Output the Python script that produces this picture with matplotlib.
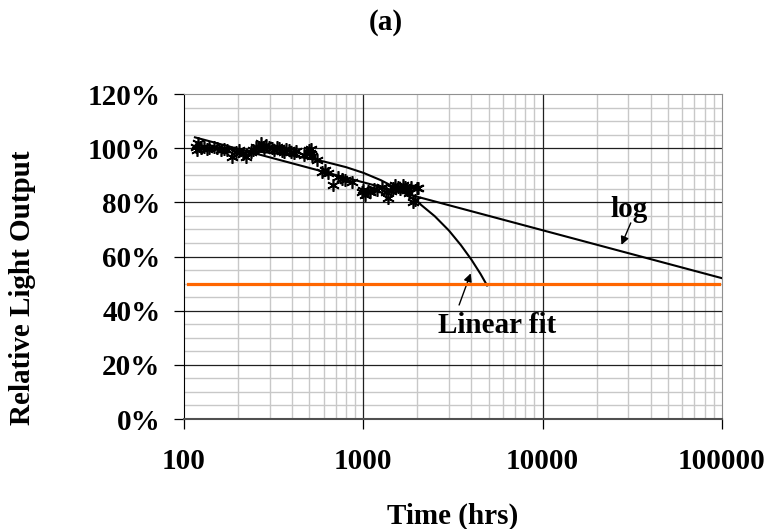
"""Relative light output vs time, with log and linear fits."""
import numpy as np
import matplotlib
matplotlib.use("Agg")
import matplotlib.pyplot as plt
from matplotlib.ticker import FixedLocator, LogLocator, NullFormatter

# Measured points (hours, % of initial output)
hours = np.array([
    116, 118, 120, 124, 129, 134, 138, 146, 153, 160, 167, 174, 185, 194,
    203, 212, 221, 235, 243, 251, 260, 268, 279, 288, 298, 308, 318, 328,
    339, 350, 361, 372, 385, 397, 410, 420, 467, 497, 505, 512, 520, 553,
    588, 610, 635, 677, 724, 760, 790, 864, 984, 1000, 1024, 1060, 1088,
    1140, 1190, 1270, 1340, 1373, 1420, 1462, 1510, 1560, 1610, 1665, 1710,
    1755, 1800, 1850, 1895, 1940, 1990, 2020
])
output = np.array([
    100.6, 99.3, 101.8, 100.2, 100.6, 99.8, 100.0, 100.4, 100.0, 99.3, 99.8,
    99.3, 96.9, 98.5, 99.3, 98.0, 96.9, 98.7, 99.5, 100.6, 100.2, 101.8,
    100.0, 101.0, 100.6, 100.2, 99.3, 100.4, 100.0, 99.0, 98.7, 99.8, 99.3,
    98.5, 98.2, 98.8, 97.5, 99.3, 98.2, 99.8, 97.2, 95.6, 91.3, 92.0, 90.8,
    86.4, 89.5, 88.6, 88.3, 87.6, 83.9, 84.6, 82.7, 84.3, 83.9, 85.0, 84.6,
    85.8, 83.8, 81.6, 84.2, 85.3, 86.4, 85.8, 85.0, 86.4, 85.5, 84.6, 83.5,
    85.8, 80.2, 80.9, 85.3, 85.2
])

# Logarithmic trend line (straight on a log axis): end points
log_fit_hours = [115, 100000]
log_fit_output = [104.0, 52.0]

# Linear trend line
lin_fit_hours = [114, 200, 300, 400, 600, 800, 1000, 1250, 1500, 1750, 2000,
                 2500, 3000, 3500, 4000, 4500, 4900]
lin_fit_output = [100.3, 99.4, 98.3, 97.3, 95.1, 93.0, 90.9, 88.2, 85.5,
                  82.9, 80.2, 74.9, 69.6, 64.2, 58.9, 53.6, 49.3]

# 50 % threshold
threshold_hours = [105, 96000]
threshold_output = [50, 50]

x_ticks = [100, 1000, 10000, 100000]
x_labels = ["100", "1000", "10000", "100000"]
y_ticks = [0, 20, 40, 60, 80, 100, 120]
y_labels = ["0%", "20%", "40%", "60%", "80%", "100%", "120%"]

plt.rcParams["font.family"] = ["Liberation Serif", "DejaVu Serif"]
plt.rcParams["font.weight"] = "bold"
fs = 21

fig = plt.figure(figsize=(7.71, 5.29), dpi=100)
ax = fig.add_axes([0.2387, 0.2079, 0.6977, 0.6144])

ax.set_xscale("log")
ax.set_xlim(100, 100000)
ax.set_ylim(0, 120)

# light minor grid, darker major lines drawn on top of it
ax.xaxis.set_minor_locator(LogLocator(base=10, subs=np.arange(2, 10)))
ax.xaxis.set_minor_formatter(NullFormatter())
ax.yaxis.set_minor_locator(FixedLocator(np.arange(0, 121, 5)))
ax.grid(which="minor", color="#c8c8c8", lw=1.0)
ax.set_axisbelow(True)
for t in x_ticks[1:-1]:
    ax.axvline(t, color="#202020", lw=0.9, zorder=1)
for v in y_ticks[1:-1]:
    ax.axhline(v, color="#202020", lw=0.9, zorder=1)

ax.plot(hours, output, ls="none", marker=(6, 2, 0), ms=9, mew=1.2,
        color="black", zorder=3)
ax.plot(log_fit_hours, log_fit_output, color="black", lw=1.5, zorder=4)
ax.plot(lin_fit_hours, lin_fit_output, color="black", lw=1.5, zorder=4)
ax.plot(threshold_hours, threshold_output, color="#ff6600", lw=2.3, zorder=4)

ax.text(30500, 77.5, "log", fontsize=fs, fontweight="bold",
        ha="center", va="center")
ax.annotate("", xy=(27500, 64.3), xytext=(31000, 72.4),
            arrowprops=dict(arrowstyle="-|>", color="black", lw=1.0,
                            mutation_scale=12, shrinkA=0, shrinkB=0))
ax.text(5600, 34.7, "Linear fit", fontsize=fs, fontweight="bold",
        ha="center", va="center")
ax.annotate("", xy=(3970, 53.8), xytext=(3420, 42.1),
            arrowprops=dict(arrowstyle="-|>", color="black", lw=1.0,
                            mutation_scale=12, shrinkA=0, shrinkB=0))

ax.set_xticks(x_ticks)
ax.set_xticklabels(x_labels)
ax.set_yticks(y_ticks)
ax.set_yticklabels(y_labels)
ax.tick_params(which="major", length=7, width=0.9, labelsize=fs)
ax.tick_params(axis="x", which="major", pad=14)
ax.tick_params(axis="y", which="major", pad=10)
ax.tick_params(which="minor", length=0)

for side in ["top", "right"]:
    ax.spines[side].set_color("#909090")
ax.spines["bottom"].set_color("#505050")
ax.spines["bottom"].set_linewidth(1.5)
ax.spines["left"].set_color("black")

ax.set_xlabel("Time (hrs)", fontsize=fs, fontweight="bold", labelpad=20)
fig.text(23 / 771, 1 - 288 / 529, "Relative Light Output", fontsize=fs,
         fontweight="bold", rotation=90, ha="center", va="center")
fig.text(0.5, 1 - 22 / 529, "(a)", fontsize=fs, fontweight="bold",
         ha="center", va="center")

fig.savefig("out.png", dpi=100)
